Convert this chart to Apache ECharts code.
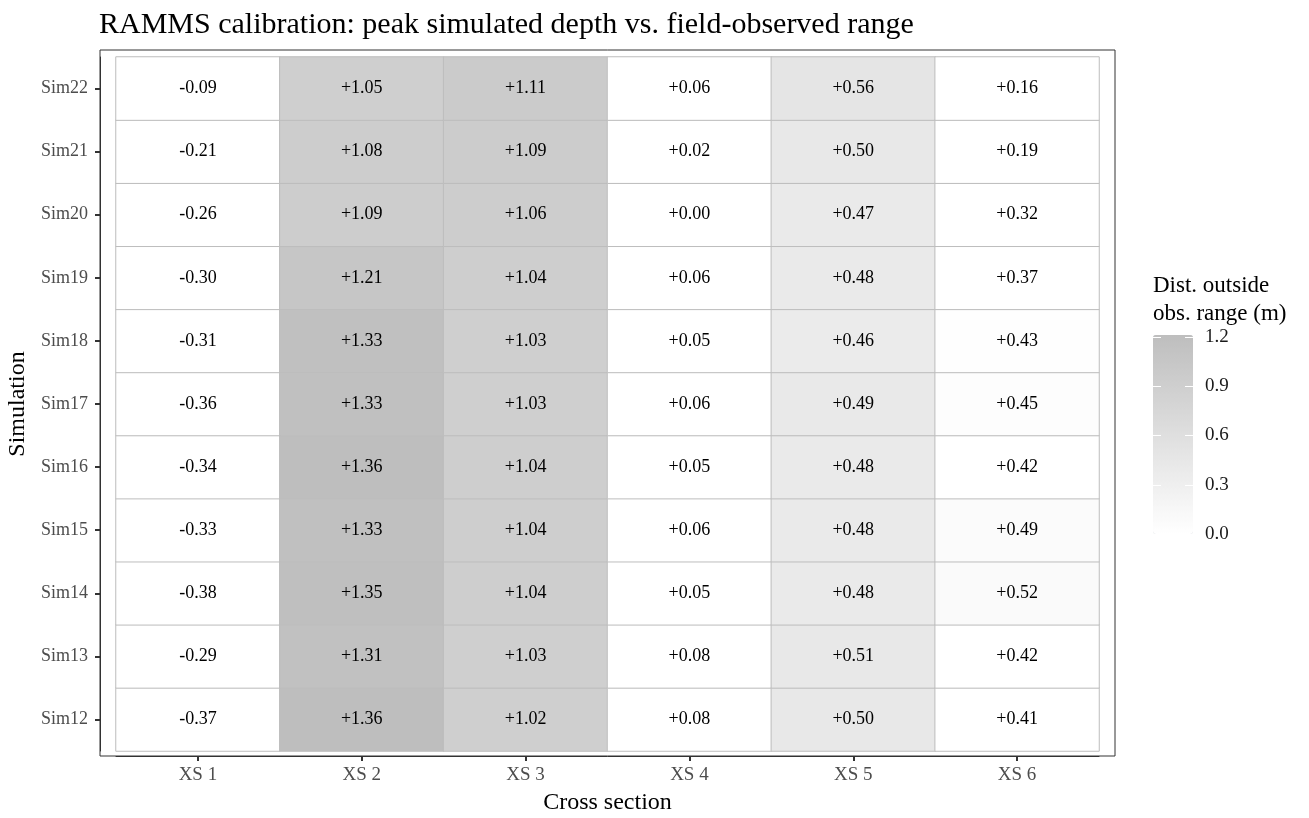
<!DOCTYPE html>
<html>
<head>
<meta charset="utf-8">
<script src="https://cdn.jsdelivr.net/npm/echarts@6/dist/echarts.min.js"></script>
<style>
html,body{margin:0;padding:0;background:#fff;}
#c{width:1309px;height:818px;}
</style>
</head>
<body>
<div id="c"></div>
<script>
// Categories
const crossSections = ['XS 1', 'XS 2', 'XS 3', 'XS 4', 'XS 5', 'XS 6'];
const simulations = ['Sim12', 'Sim13', 'Sim14', 'Sim15', 'Sim16', 'Sim17', 'Sim18', 'Sim19', 'Sim20', 'Sim21', 'Sim22'];

// Printed values (Sim12 .. Sim22) per cross section
const labelXS1 = [-0.37, -0.29, -0.38, -0.33, -0.34, -0.36, -0.31, -0.30, -0.26, -0.21, -0.09];
const labelXS2 = [1.36, 1.31, 1.35, 1.33, 1.36, 1.33, 1.33, 1.21, 1.09, 1.08, 1.05];
const labelXS3 = [1.02, 1.03, 1.04, 1.04, 1.04, 1.03, 1.03, 1.04, 1.06, 1.09, 1.11];
const labelXS4 = [0.08, 0.08, 0.05, 0.06, 0.05, 0.06, 0.05, 0.06, 0.00, 0.02, 0.06];
const labelXS5 = [0.50, 0.51, 0.48, 0.48, 0.48, 0.49, 0.46, 0.48, 0.47, 0.50, 0.56];
const labelXS6 = [0.41, 0.42, 0.52, 0.49, 0.42, 0.45, 0.43, 0.37, 0.32, 0.19, 0.16];

// Fill: distance outside observed range (m), estimated from tile shading
const distXS1 = [0, 0, 0, 0, 0, 0, 0, 0, 0, 0, 0];
const distXS2 = [1.21, 1.16, 1.20, 1.18, 1.21, 1.18, 1.18, 1.06, 0.94, 0.93, 0.90];
const distXS3 = [0.89, 0.90, 0.91, 0.91, 0.91, 0.90, 0.90, 0.91, 0.93, 0.95, 0.96];
const distXS4 = [0, 0, 0, 0, 0, 0, 0, 0, 0, 0, 0];
const distXS5 = [0.42, 0.43, 0.40, 0.40, 0.40, 0.41, 0.38, 0.40, 0.39, 0.42, 0.48];
const distXS6 = [0, 0, 0.10, 0.07, 0, 0.03, 0.01, 0, 0, 0, 0];

// Colour-bar ticks
const legendTicks = [0.0, 0.3, 0.6, 0.9, 1.2];
const legendMin = 0;
const legendMax = 1.21;

const labelCols = [labelXS1, labelXS2, labelXS3, labelXS4, labelXS5, labelXS6];
const distCols = [distXS1, distXS2, distXS3, distXS4, distXS5, distXS6];

const data = [];
crossSections.forEach((xs, i) => {
  simulations.forEach((s, j) => {
    data.push([i, j, distCols[i][j], labelCols[i][j]]);
  });
});

const FONT = '"Liberation Serif", "Times New Roman", serif';
const fmt = v => (v < 0 ? '-' : '+') + Math.abs(v).toFixed(2);

// colour-bar geometry
const barLeft = 1153, barTop = 335, barW = 40, barH = 199;
const tickY = v => barTop + barH * (1 - (v - legendMin) / (legendMax - legendMin));

const graphics = [];
legendTicks.forEach(v => {
  const y = Math.round(tickY(v)) + 0.5;
  graphics.push({type: 'line', z: 100, shape: {x1: barLeft, y1: y, x2: barLeft + 8, y2: y}, style: {stroke: '#ffffff', lineWidth: 1}});
  graphics.push({type: 'line', z: 100, shape: {x1: barLeft + barW - 8, y1: y, x2: barLeft + barW, y2: y}, style: {stroke: '#ffffff', lineWidth: 1}});
  graphics.push({type: 'text', z: 100, x: 1205, y: tickY(v), style: {text: v.toFixed(1), font: '19px ' + FONT, fill: '#1a1a1a', textVerticalAlign: 'middle', verticalAlign: 'middle'}});
});
graphics.push({type: 'text', z: 100, x: 1153, y: 272, style: {text: 'Dist. outside\nobs. range (m)', font: '23px ' + FONT, fill: '#000', lineHeight: 28}});

const chart = echarts.init(document.getElementById('c'), null, {renderer: 'canvas'});
chart.setOption({
  animation: false,
  backgroundColor: '#ffffff',
  textStyle: {fontFamily: FONT},
  title: {
    text: 'RAMMS calibration: peak simulated depth vs. field-observed range',
    left: 99, top: 10, padding: 0,
    textStyle: {fontFamily: FONT, fontSize: 30, fontWeight: 'normal', color: '#000'}
  },
  grid: [
    {left: 116, right: 210, top: 57, bottom: 67, containLabel: false, outerBoundsMode: 'none'},
    {left: 100, right: 194, top: 50, bottom: 62, containLabel: false, outerBoundsMode: 'none', show: true, borderColor: '#333333', borderWidth: 1, backgroundColor: 'transparent', z: 10}
  ],
  xAxis: [
    {
      type: 'category', gridIndex: 0, data: crossSections, offset: 5,
      name: 'Cross section', nameLocation: 'middle', nameGap: 35,
      nameTextStyle: {fontFamily: FONT, fontSize: 24, color: '#000'},
      axisLine: {show: true, lineStyle: {color: '#333333', width: 1}},
      axisTick: {show: true, alignWithLabel: true, length: 5, lineStyle: {color: '#333333', width: 2}},
      axisLabel: {fontFamily: FONT, fontSize: 19, color: '#4d4d4d', margin: 10},
      splitLine: {show: false}
    },
    {type: 'value', gridIndex: 1, show: false}
  ],
  yAxis: [
    {
      type: 'category', gridIndex: 0, data: simulations, offset: 16,
      name: 'Simulation', nameLocation: 'middle', nameGap: 68, nameRotate: 90,
      nameTextStyle: {fontFamily: FONT, fontSize: 24, color: '#000'},
      axisLine: {show: true, lineStyle: {color: '#333333', width: 1}},
      axisTick: {show: true, alignWithLabel: true, length: 5, lineStyle: {color: '#333333', width: 2}},
      axisLabel: {fontFamily: FONT, fontSize: 18, color: '#4d4d4d', margin: 12},
      splitLine: {show: false}
    },
    {type: 'value', gridIndex: 1, show: false}
  ],
  visualMap: {
    type: 'continuous',
    min: legendMin, max: legendMax,
    dimension: 2, seriesIndex: 0,
    calculable: false,
    left: barLeft, top: barTop,
    itemWidth: barW, itemHeight: barH,
    padding: 0,
    text: null,
    showLabel: false,
    inRange: {color: ['#ffffff', '#bebebe']}
  },
  series: [{
    type: 'heatmap',
    xAxisIndex: 0, yAxisIndex: 0,
    data: data,
    itemStyle: {borderColor: '#bdbdbd', borderWidth: 1},
    label: {
      show: true,
      fontFamily: FONT, fontSize: 18, color: '#000',
      formatter: p => fmt(p.data[3])
    },
    emphasis: {disabled: true}
  }],
  graphic: graphics
});
</script>
</body>
</html>
